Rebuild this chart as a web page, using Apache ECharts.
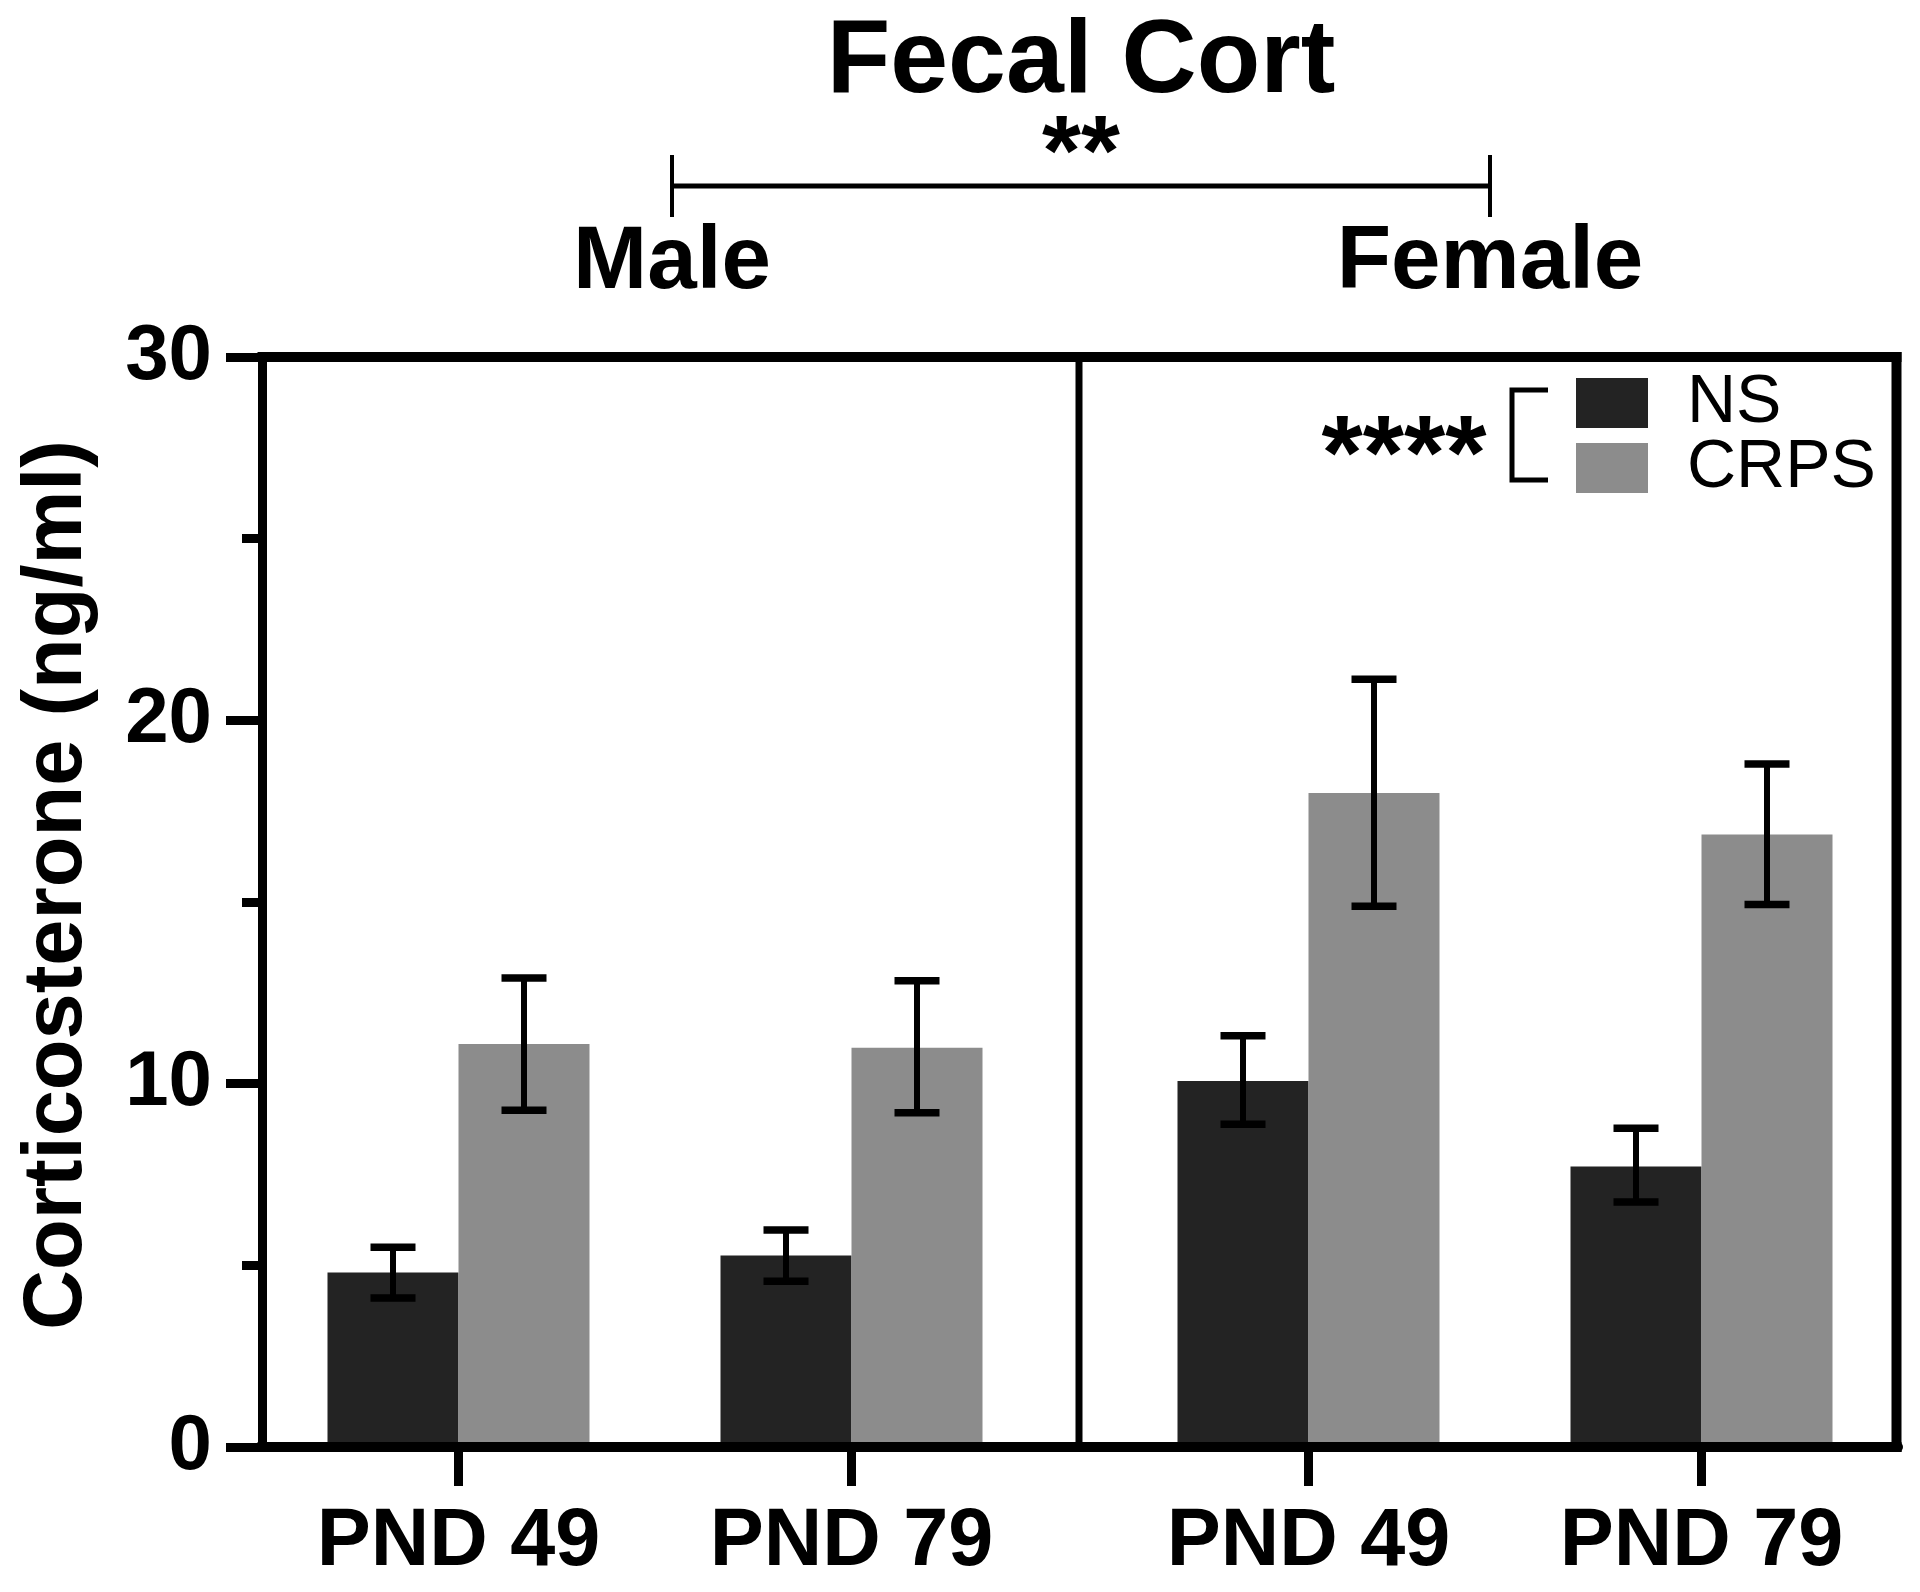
<!DOCTYPE html>
<html>
<head>
<meta charset="utf-8">
<script src="https://cdn.jsdelivr.net/npm/echarts@6/dist/echarts.min.js"></script>
<style>
html,body{margin:0;padding:0;background:#fff;}
#chart{width:1920px;height:1592px;}
</style>
</head>
<body>
<div id="chart"></div>
<script>
// ---------- data ----------
const categories = ['PND 49', 'PND 79'];
const groupLabels = ['Male', 'Female'];
const seriesNames = ['NS', 'CRPS'];

const nsMale = [4.80, 5.27];
const nsMaleLow = [4.10, 4.56];
const nsMaleHigh = [5.50, 5.97];
const nsFemale = [10.07, 7.72];
const nsFemaleLow = [8.88, 6.74];
const nsFemaleHigh = [11.32, 8.77];

const crpsMale = [11.09, 10.99];
const crpsMaleLow = [9.27, 9.20];
const crpsMaleHigh = [12.91, 12.83];
const crpsFemale = [18.00, 16.86];
const crpsFemaleLow = [14.88, 14.93];
const crpsFemaleHigh = [21.13, 18.80];

const yMin = 0, yMax = 30, yInterval = 10;
const titleText = 'Fecal Cort';
const yAxisName = 'Corticosterone (ng/ml)';
const sexSig = '**';
const treatSig = '****';

// ---------- layout / style ----------
const FONT = "'Liberation Sans', Arial, Helvetica, sans-serif";
const C_NS = '#232323', C_CRPS = '#8c8c8c';
const GRID_TOP = 357, GRID_H = 1090;
const G0_LEFT = 262, G1_LEFT = 1112, G_W = 786;
const BAR_W = 131;
const FRAME_W = 10;

const chart = echarts.init(document.getElementById('chart'), null, {renderer: 'canvas'});

function errData(low, high) {
  return low.map((l, i) => [i, l, high[i]]);
}
function errRender(side) {
  return function (params, api) {
    const xi = api.value(0);
    const lo = api.coord([xi, api.value(1)]);
    const hi = api.coord([xi, api.value(2)]);
    const x = lo[0] + side * BAR_W / 2;
    const capHalf = 22.5;
    const st = {stroke: '#000', lineWidth: 6};
    const cap = {stroke: '#000', lineWidth: 7.5};
    return {
      type: 'group',
      children: [
        {type: 'line', shape: {x1: x, y1: lo[1], x2: x, y2: hi[1]}, style: st},
        {type: 'line', shape: {x1: x - capHalf, y1: hi[1], x2: x + capHalf, y2: hi[1]}, style: cap},
        {type: 'line', shape: {x1: x - capHalf, y1: lo[1], x2: x + capHalf, y2: lo[1]}, style: cap}
      ]
    };
  };
}

function xAxisDef(gridIndex) {
  return {
    type: 'category', gridIndex: gridIndex, data: categories,
    boundaryGap: true,
    axisLine: {show: true, lineStyle: {color: '#000', width: FRAME_W}},
    axisTick: {show: true, alignWithLabel: true, length: 39, lineStyle: {color: '#000', width: 9}},
    axisLabel: {show: true, color: '#000', fontFamily: FONT, fontWeight: 'bold', fontSize: 81,
      margin: 96, verticalAlign: 'middle', lineHeight: 81},
    splitLine: {show: false}
  };
}

const option = {
  backgroundColor: '#fff',
  animation: false,
  title: {
    text: titleText, left: 1081, top: 11, padding: 0, textAlign: 'center',
    textStyle: {fontFamily: FONT, fontWeight: 'bold', fontSize: 104, lineHeight: 104, color: '#000'}
  },
  legend: {
    data: seriesNames, orient: 'vertical', left: 1576, top: 369, padding: 0,
    itemWidth: 72, itemHeight: 50, itemGap: -3, icon: 'rect',
    textStyle: {fontFamily: FONT, fontSize: 68, color: '#000', padding: [0, 0, 0, 34]}
  },
  grid: [
    {left: G0_LEFT, top: GRID_TOP, width: G_W, height: GRID_H, containLabel: false},
    {left: G1_LEFT, top: GRID_TOP, width: G_W, height: GRID_H, containLabel: false}
  ],
  xAxis: [xAxisDef(0), xAxisDef(1)],
  yAxis: [
    {
      type: 'value', gridIndex: 0, min: yMin, max: yMax, interval: yInterval,
      name: yAxisName, nameLocation: 'middle', nameGap: 204, nameRotate: 90,
      nameTextStyle: {fontFamily: FONT, fontWeight: 'bold', fontSize: 83, color: '#000',
        verticalAlign: 'middle', padding: [0, 0, 0, 34]},
      axisLine: {show: true, lineStyle: {color: '#000', width: 9}},
      axisTick: {show: true, length: 36, lineStyle: {color: '#000', width: 9}},
      minorTick: {show: true, splitNumber: 2, length: 20, lineStyle: {color: '#000', width: 9}},
      axisLabel: {color: '#000', fontFamily: FONT, fontWeight: 'bold', fontSize: 78, margin: 50},
      splitLine: {show: false}
    },
    {
      type: 'value', gridIndex: 1, min: yMin, max: yMax, interval: yInterval, show: false,
      splitLine: {show: false}
    }
  ],
  series: [
    {name: seriesNames[0], type: 'bar', xAxisIndex: 0, yAxisIndex: 0, data: nsMale,
      barWidth: BAR_W, barGap: '0%', itemStyle: {color: C_NS}, z: 2},
    {name: seriesNames[1], type: 'bar', xAxisIndex: 0, yAxisIndex: 0, data: crpsMale,
      barWidth: BAR_W, barGap: '0%', itemStyle: {color: C_CRPS}, z: 2},
    {name: seriesNames[0], type: 'bar', xAxisIndex: 1, yAxisIndex: 1, data: nsFemale,
      barWidth: BAR_W, barGap: '0%', itemStyle: {color: C_NS}, z: 2},
    {name: seriesNames[1], type: 'bar', xAxisIndex: 1, yAxisIndex: 1, data: crpsFemale,
      barWidth: BAR_W, barGap: '0%', itemStyle: {color: C_CRPS}, z: 2},
    {type: 'custom', name: 'NS err M', xAxisIndex: 0, yAxisIndex: 0, renderItem: errRender(-1),
      data: errData(nsMaleLow, nsMaleHigh), encode: {x: 0, y: [1, 2]}, z: 5},
    {type: 'custom', name: 'CRPS err M', xAxisIndex: 0, yAxisIndex: 0, renderItem: errRender(1),
      data: errData(crpsMaleLow, crpsMaleHigh), encode: {x: 0, y: [1, 2]}, z: 5},
    {type: 'custom', name: 'NS err F', xAxisIndex: 1, yAxisIndex: 1, renderItem: errRender(-1),
      data: errData(nsFemaleLow, nsFemaleHigh), encode: {x: 0, y: [1, 2]}, z: 5},
    {type: 'custom', name: 'CRPS err F', xAxisIndex: 1, yAxisIndex: 1, renderItem: errRender(1),
      data: errData(crpsFemaleLow, crpsFemaleHigh), encode: {x: 0, y: [1, 2]}, z: 5}
  ]
};
chart.setOption(option);

// frame and annotations, positioned from the axes
const yTopPx = chart.convertToPixel({yAxisIndex: 0}, yMax);
const yBotPx = chart.convertToPixel({yAxisIndex: 0}, yMin);
const leftPx = G0_LEFT;
const rightPx = G1_LEFT + G_W - 1.5;
const midPx = (G0_LEFT + G_W + G1_LEFT) / 2 - 1;
const maleX = 672, femaleX = 1490;

const lineStyle = (w) => ({stroke: '#000', lineWidth: w});
chart.setOption({
  graphic: [
    {type: 'line', z: 50, shape: {x1: leftPx - 4.5, y1: yTopPx, x2: rightPx + 5, y2: yTopPx}, style: lineStyle(FRAME_W)},
    {type: 'line', z: 50, shape: {x1: leftPx - 4.5, y1: yBotPx, x2: rightPx + 5, y2: yBotPx}, style: lineStyle(FRAME_W)},
    {type: 'line', z: 50, shape: {x1: rightPx, y1: yTopPx - 5, x2: rightPx, y2: yBotPx + 5}, style: lineStyle(FRAME_W)},
    {type: 'line', z: 50, shape: {x1: midPx, y1: yTopPx, x2: midPx, y2: yBotPx}, style: lineStyle(7)},
    // sex comparison bracket
    {type: 'line', shape: {x1: maleX, y1: 186, x2: femaleX, y2: 186}, style: lineStyle(5)},
    {type: 'line', shape: {x1: maleX, y1: 155, x2: maleX, y2: 217}, style: lineStyle(4)},
    {type: 'line', shape: {x1: femaleX, y1: 155, x2: femaleX, y2: 217}, style: lineStyle(4)},
    {type: 'text', style: {text: sexSig, x: 1081, y: 157, align: 'center', verticalAlign: 'middle',
      font: "bold 100px " + FONT, fill: '#000'}},
    {type: 'text', style: {text: groupLabels[0], x: maleX, y: 263, align: 'center', verticalAlign: 'middle',
      font: "bold 89px " + FONT, fill: '#000'}},
    {type: 'text', style: {text: groupLabels[1], x: femaleX, y: 263, align: 'center', verticalAlign: 'middle',
      font: "bold 89px " + FONT, fill: '#000'}},
    // legend bracket
    {type: 'polyline', shape: {points: [[1548, 390], [1512, 390], [1512, 480], [1548, 480]]},
      style: {stroke: '#000', lineWidth: 5, fill: null}},
    {type: 'text', style: {text: treatSig, x: 1404, y: 460, align: 'center', verticalAlign: 'middle',
      font: "bold 106px " + FONT, fill: '#000'}}
  ]
});
</script>
</body>
</html>
